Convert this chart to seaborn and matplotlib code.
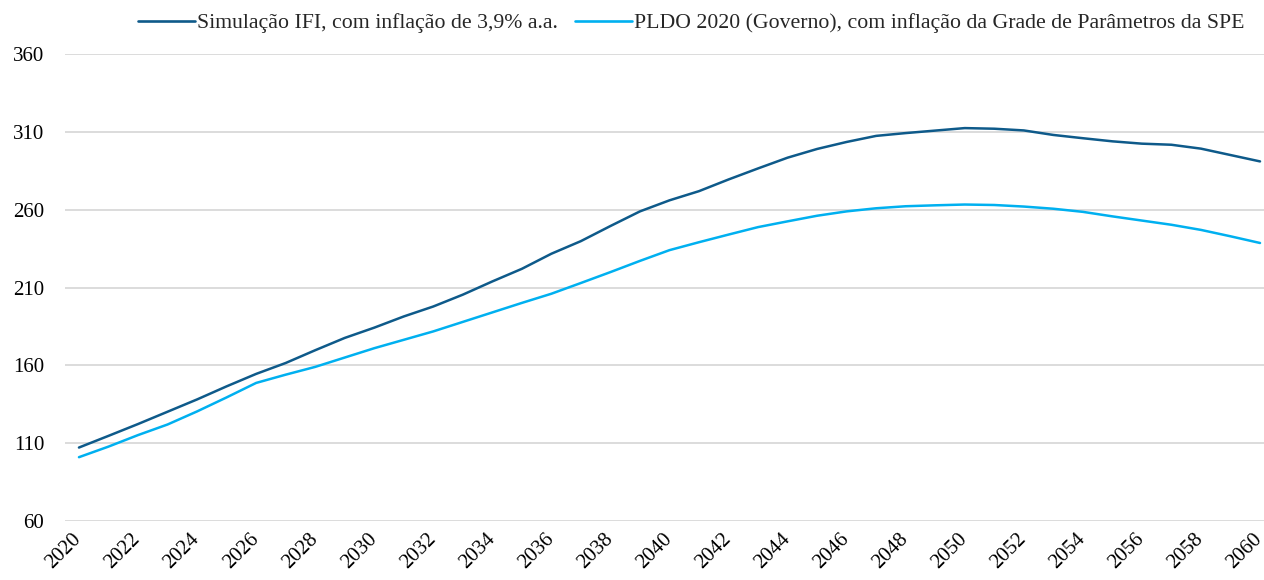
import numpy as np
import pandas as pd
import matplotlib
matplotlib.use("Agg")
import matplotlib.pyplot as plt
import matplotlib.transforms as mtransforms
import seaborn as sns

# Series values, one per year 2020-2060
years = list(range(2020, 2061))
ifi_values = [
    107.2, 114.7, 122.3, 130.2, 138.1, 146.5, 154.5, 161.5, 169.7, 177.6,
    184.2, 191.4, 197.8, 205.4, 213.9, 222.0, 231.7, 239.8, 249.5, 258.9,
    266.0, 271.9, 279.4, 286.5, 293.4, 299.0, 303.5, 307.4, 309.2, 310.8,
    312.4, 312.0, 310.9, 308.0, 305.9, 303.9, 302.4, 301.7, 299.2, 295.1,
    291.0,
]
pldo_values = [
    101.0, 107.8, 115.2, 122.0, 130.4, 139.4, 148.7, 154.0, 159.0, 165.0,
    171.0, 176.4, 181.8, 187.9, 194.0, 200.1, 206.0, 212.9, 219.9, 227.1,
    234.0, 239.1, 244.0, 248.8, 252.5, 256.1, 258.9, 260.9, 262.2, 262.8,
    263.3, 263.0, 262.0, 260.6, 258.6, 255.7, 253.0, 250.3, 247.0, 242.9,
    238.6,
]
series_names = [
    "Simulação IFI, com inflação de 3,9% a.a.",
    "PLDO 2020 (Governo), com inflação da Grade de Parâmetros da SPE",
]
y_ticks = [60, 110, 160, 210, 260, 310, 360]
x_ticks = list(range(2020, 2061, 2))

df = pd.DataFrame({
    "ano": years * 2,
    "valor": ifi_values + pldo_values,
    "serie": [series_names[0]] * len(years) + [series_names[1]] * len(years),
})

sns.set_theme(style="white")
plt.rcParams["font.family"] = ["Liberation Serif", "DejaVu Serif"]

fig = plt.figure(figsize=(12.64, 5.8), dpi=100)
ax = fig.add_axes([0.0514, 0.1017, 0.9486, 0.8052])

palette = {series_names[0]: "#0E5A8A", series_names[1]: "#00B0F0"}
sns.lineplot(data=df, x="ano", y="valor", hue="serie", palette=palette,
             linewidth=1.8, ax=ax, legend=True)

ax.set_xlim(2019.526, 2060.135)
ax.set_ylim(60, 360)
ax.set_yticks(y_ticks)
ax.set_xticks(x_ticks)
ax.set_xticklabels([str(y) for y in x_ticks], rotation=45, ha="right",
                   rotation_mode="anchor", fontsize=15, color="#000000")
ax.set_yticklabels([str(v) for v in y_ticks], fontsize=15, color="#000000")
ax.tick_params(axis="y", length=0, pad=15)
ax.tick_params(axis="x", length=0, pad=6)
# nudge the slanted year labels left so the last one stays inside the canvas
shift = mtransforms.ScaledTranslation(-7 / 100, 0, fig.dpi_scale_trans)
for lbl in ax.get_xticklabels():
    lbl.set_transform(lbl.get_transform() + shift)
ax.set_xlabel("")
ax.set_ylabel("")

ax.grid(axis="y", color="#D9D9D9", linewidth=1.3)
ax.grid(axis="x", visible=False)
for sp in ax.spines.values():
    sp.set_visible(False)

leg = ax.legend(loc="center", bbox_to_anchor=(0.5225, 1.066), ncol=2,
                frameon=False, fontsize=15.7, handlelength=2.6,
                handletextpad=0.1, columnspacing=0.8)
for line in leg.get_lines():
    line.set_linewidth(1.9)

fig.savefig("out.png", dpi=100, facecolor="white")
